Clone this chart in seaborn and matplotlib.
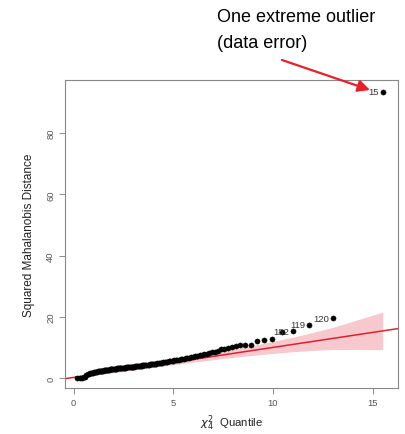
import matplotlib
matplotlib.use("Agg")
import matplotlib.pyplot as plt
import seaborn as sns
import numpy as np
import pandas as pd

# chi-square(4) quantile positions (ascending)
quantiles = [0.18, 0.32, 0.42, 0.50, 0.57, 0.64, 0.70, 0.76, 0.82, 0.87,
             0.92, 0.98, 1.02, 1.07, 1.12, 1.17, 1.21, 1.26, 1.30, 1.35,
             1.39, 1.43, 1.48, 1.52, 1.56, 1.60, 1.64, 1.69, 1.73, 1.77,
             1.81, 1.85, 1.89, 1.93, 1.97, 2.02, 2.06, 2.10, 2.14, 2.18,
             2.22, 2.26, 2.30, 2.34, 2.38, 2.43, 2.47, 2.51, 2.55, 2.59,
             2.64, 2.68, 2.72, 2.77, 2.81, 2.85, 2.90, 2.94, 2.99, 3.03,
             3.08, 3.12, 3.17, 3.22, 3.26, 3.31, 3.36, 3.41, 3.45, 3.50,
             3.55, 3.60, 3.65, 3.71, 3.76, 3.81, 3.86, 3.92, 3.97, 4.03,
             4.08, 4.14, 4.20, 4.26, 4.32, 4.38, 4.44, 4.50, 4.57, 4.63,
             4.70, 4.77, 4.84, 4.91, 4.98, 5.05, 5.13, 5.20, 5.28, 5.36,
             5.45, 5.53, 5.62, 5.71, 5.80, 5.90, 6.00, 6.10, 6.21, 6.32,
             6.43, 6.55, 6.68, 6.80, 6.94, 7.08, 7.23, 7.39, 7.56, 7.74,
             7.94, 8.14, 8.37, 8.62, 8.89, 9.20, 9.54, 9.95, 10.43, 11.02,
             11.81, 13.00, 15.51]

# sorted squared Mahalanobis distances
distances = [0.00, 0.05, 0.10, 0.18, 0.35, 0.95, 1.25, 1.40, 1.50, 1.58,
             1.66, 1.74, 1.82, 1.90, 1.97, 2.04, 2.10, 2.16, 2.21, 2.26,
             2.31, 2.36, 2.41, 2.46, 2.51, 2.55, 2.59, 2.63, 2.67, 2.71,
             2.75, 2.79, 2.83, 2.87, 2.91, 2.95, 2.99, 3.03, 3.06, 3.09,
             3.12, 3.15, 3.18, 3.21, 3.24, 3.27, 3.30, 3.33, 3.36, 3.39,
             3.42, 3.45, 3.48, 3.51, 3.54, 3.57, 3.60, 3.64, 3.68, 3.72,
             3.76, 3.80, 3.84, 3.88, 3.92, 3.96, 4.00, 4.04, 4.08, 4.12,
             4.16, 4.20, 4.25, 4.30, 4.35, 4.40, 4.45, 4.50, 4.55, 4.60,
             4.65, 4.70, 4.76, 4.82, 4.88, 4.94, 5.00, 5.06, 5.13, 5.20,
             5.28, 5.36, 5.44, 5.52, 5.62, 5.70, 5.78, 5.86, 5.96, 6.06,
             6.18, 6.30, 6.42, 6.54, 6.66, 6.80, 6.94, 7.08, 7.24, 7.40,
             7.56, 7.74, 7.94, 8.14, 8.36, 8.60, 8.86, 9.30, 9.60, 9.90,
             10.10, 10.45, 10.70, 10.80, 10.85, 12.00, 12.30, 12.65, 14.90, 15.20,
             17.30, 19.50, 93.50]

# labelled observations: (index into sorted arrays, label)
label_idx = [129, 130, 131, 132]
label_txt = ["182", "119", "120", "15"]

# reference line (intercept, slope)
ref_line = [0.16, 0.98]

# confidence envelope
band_x = [0.18, 0.50, 1.07, 1.93, 3.36, 4.91, 6.80, 8.62, 9.95, 11.02, 11.81, 13.00, 15.51]
band_lo = [0.09, 0.38, 0.89, 1.66, 2.92, 4.25, 5.78, 7.13, 7.98, 8.57, 8.92, 9.30, 9.23]
band_hi = [0.59, 0.92, 1.53, 2.44, 3.98, 5.69, 7.86, 10.09, 11.84, 13.35, 14.54, 16.50, 21.49]

x_ticks = [0, 5, 10, 15]
y_ticks = [0, 20, 40, 60, 80]

annot_lines = ["One extreme outlier", "(data error)"]

sns.set_theme(style="white")
plt.rcParams['font.family'] = ['Liberation Sans', 'DejaVu Sans']

fig = plt.figure(figsize=(4.06, 4.35), dpi=100)
ax = fig.add_axes([0.160, 0.106, 0.820, 0.708])

df = pd.DataFrame({"q": quantiles, "d": distances})

ax.fill_between(band_x, band_lo, band_hi, color="#f7c8cd", lw=0, zorder=1)
ax.axline((0, ref_line[0]), slope=ref_line[1], color="#e0202a", lw=1.1, zorder=2)
sns.scatterplot(data=df, x="q", y="d", ax=ax, color="black", s=14,
                edgecolor="black", linewidth=0.3, zorder=3, legend=False)

for i, t in zip(label_idx, label_txt):
    ax.text(quantiles[i] - 0.2, distances[i], t, ha="right", va="center",
            fontsize=6.8, color="#333333", zorder=4)

ax.set_xlim(-0.44, 16.27)
ax.set_ylim(-3.27, 97.4)
ax.set_xticks(x_ticks)
ax.set_yticks(y_ticks)
ax.tick_params(axis="both", which="both", direction="out", length=4, width=0.6,
               color="#777777", labelcolor="#555555", labelsize=6.8, pad=3,
               bottom=True, left=True)
for lab in ax.get_yticklabels():
    lab.set_rotation(90)
    lab.set_va("center")
for sp in ax.spines.values():
    sp.set_color("#888888")
    sp.set_linewidth(0.8)

ax.set_xlabel(r"$\chi^2_4$  Quantile", fontsize=8.2, color="#222222", labelpad=4)
ax.set_ylabel("Squared Mahalanobis Distance", fontsize=8.5, color="#222222", labelpad=8)

fig.text(217 / 406, 1 - 22 / 435, annot_lines[0], fontsize=13, ha="left",
         va="baseline", color="black")
fig.text(217 / 406, 1 - 48 / 435, annot_lines[1], fontsize=13, ha="left",
         va="baseline", color="black")
ax.annotate("", xy=(370 / 406, 1 - 91 / 435), xycoords="figure fraction",
            xytext=(282 / 406, 1 - 61 / 435), textcoords="figure fraction",
            arrowprops=dict(arrowstyle="-|>,head_length=0.6,head_width=0.3",
                            color="#e8202a", lw=1.6, shrinkA=0, shrinkB=0),
            annotation_clip=False)

fig.savefig("out.png", dpi=100)
